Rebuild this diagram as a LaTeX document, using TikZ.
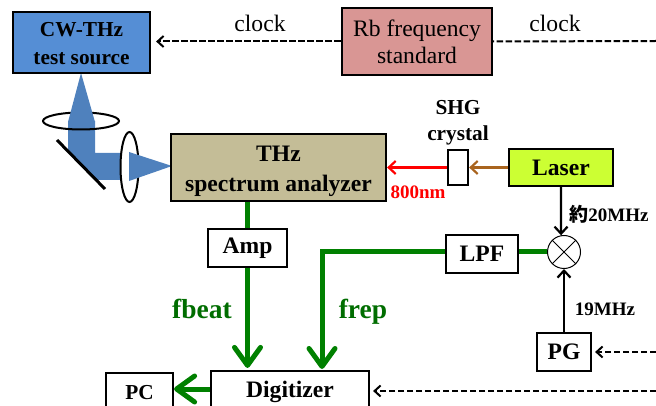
\documentclass[tikz,border=0pt]{standalone}
\usepackage{fontspec}
\setmainfont{Liberation Serif}
\newfontfamily\cjk{Noto Sans CJK JP}
\usepackage{tikz}
\usetikzlibrary{arrows.meta,shapes.geometric,calc}
\definecolor{beam}{HTML}{4F81BD}
\definecolor{srcblue}{HTML}{558ED5}
\definecolor{rbpink}{HTML}{D99694}
\definecolor{khaki}{HTML}{C4BD97}
\definecolor{lasergreen}{HTML}{CCFF33}
\definecolor{sig}{HTML}{008000}
\definecolor{pump}{HTML}{A9641E}

\begin{document}
\begin{tikzpicture}[
   x=1pt,y=-1pt,
   font=\fontsize{23.6}{29}\selectfont\bfseries,
   box/.style={draw,line width=2.2pt,inner sep=0pt,align=center},
   small/.style={font=\fontsize{21.3}{26}\selectfont\bfseries},
   plain/.style={font=\fontsize{23.6}{27}\selectfont\mdseries},
   tiny/.style={font=\fontsize{19}{22}\selectfont\bfseries},
   big/.style={font=\fontsize{27.5}{30}\selectfont\bfseries,text=sig!85!black,anchor=base},
   clk/.style={->,>={Straight Barb[length=6pt,width=11pt]},line width=2pt,dash pattern=on 6.5pt off 2.5pt},
   to/.style={->,>={Straight Barb[length=7pt,width=13pt]},line width=2.2pt},
   fat/.style={->,>={Straight Barb[length=18pt,width=26pt,round]},line width=5pt,draw=sig},
   wire/.style={line width=5pt,draw=sig}]
\useasboundingbox (0,0) rectangle (656,406);
\clip (0,0) rectangle (656,406);
\fill[beam] (68,121) -- (95,121) -- (95,153) -- (121,153) -- (121,180) -- (96,180) -- (68,151) -- cycle;
\node[draw,ellipse,minimum width=76pt,minimum height=17pt,line width=2pt,inner sep=0pt] (lensa) at (81,121) {};
\fill[beam] (68,122) -- (81,73) -- (95,122) -- cycle;
\node[draw,fill=white,ellipse,minimum width=18pt,minimum height=70pt,line width=2pt,inner sep=0pt] (lensb) at (129.5,167) {};
\fill[beam] (129,152) -- (172,166) -- (129,181) -- cycle;
\coordinate (mira) at (57,140);
\coordinate (mirb) at (105,189);
\draw[line width=3pt] (mira) -- (mirb);
\node[box,small,fill=srcblue,minimum width=137pt,minimum height=61pt] (CW) at (81.5,42.5) {\rule{0pt}{24pt}CW-THz\\[2pt]\strut test source};
\node[box,plain,fill=rbpink,minimum width=150pt,minimum height=67pt] (Rb) at (417,41.5) {Rb frequency\\standard};
\node[box,fill=khaki,minimum width=215pt,minimum height=67pt] (THz) at (278.5,167.5) {\rule{0pt}{27pt}THz\\[1pt]\strut spectrum analyzer};
\node[box,minimum width=20pt,minimum height=35pt] (SHG) at (458,167.5) {};
\node[box,fill=lasergreen,minimum width=104pt,minimum height=37pt] (Laser) at (561,167.5) {Laser};
\node[box,minimum width=79pt,minimum height=38pt] (Amp) at (247.5,248) {Amp};
\node[box,minimum width=72pt,minimum height=38pt] (LPF) at (482,254) {LPF};
\node[draw,circle,minimum size=33pt,inner sep=0pt,line width=1pt] (mix) at (564,252) {};
\node[box,minimum width=54pt,minimum height=38pt] (PG) at (564,352) {PG};
\node[box,minimum width=158pt,minimum height=42pt] (Digitizer) at (290,392) {Digitizer};
\node[box,small,minimum width=67pt,minimum height=40pt] (PC) at (139.5,393) {PC};
\coordinate (clkin) at (656,41);
\coordinate (pgin) at (656,352);
\coordinate (digin) at (656,391);
\coordinate (frepin) at (322,369);
\draw[line width=1pt] (mix.45) -- (mix.225);
\draw[line width=1pt] (mix.135) -- (mix.315);
\draw[clk,shorten >=5pt] (Rb.west) -- (Rb.west -| CW.east);
\draw[clk,-] (clkin) -- (Rb.east);
\draw[clk,shorten >=3pt] (pgin) -- (PG.east);
\draw[clk,shorten >=3pt] (digin) -- (digin -| Digitizer.east);
\draw[to,draw=pump] (Laser.west) -- (SHG.east);
\draw[to,draw=red] (SHG.west) -- (THz.east);
\draw[to] (Laser.south) -- (mix.100);
\draw[to] (PG.north) -- (mix.south);
\draw[wire] (THz.south -| Amp.north) -- (Amp.north);
\draw[fat] (Amp.south) -- ($(Digitizer.north -| Amp.south)+(0,-2)$);
\draw[fat] (LPF.west |- mix.west) -| (frepin);
\draw[wire] (LPF.east |- mix.west) -- (mix.west);
\draw[fat] (Digitizer.west |- 0,389) -- (PC.east |- 0,389);
\node[plain] (clka) at (260,23) {clock};
\node[plain] (clkb) at (555,23) {clock};
\node[small,align=center] (SHGlab) at (458,122) {\strut SHG\\\strut crystal};
\node[tiny,text=red] (nm) at (418,192) {800nm};
\node[tiny] (f20) at (609,214) {{\cjk 約}20MHz};
\node[tiny] (f19) at (605,309) {19MHz};
\node[big] (fbeat) at (202,318) {fbeat};
\node[big] (frep) at (363,318) {frep};
\end{tikzpicture}
\end{document}
